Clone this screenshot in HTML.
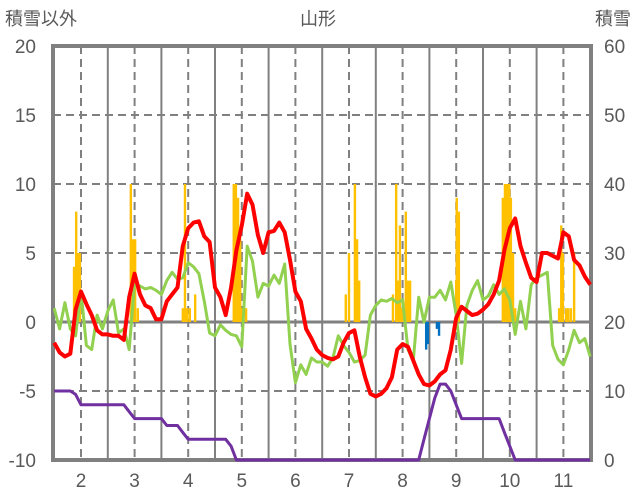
<!DOCTYPE html>
<html><head><meta charset="utf-8">
<style>
html,body{margin:0;padding:0;background:#fff;}
svg{display:block;font-family:"Liberation Sans","Noto Sans CJK JP",sans-serif;}
</style></head>
<body>
<svg id="chart" width="636" height="501" viewBox="0 0 636 501" xmlns="http://www.w3.org/2000/svg">
<text x="5" y="25" font-size="18" fill="#595959">積雪以外</text>
<text x="318" y="25" font-size="18" fill="#595959" text-anchor="middle">山形</text>
<text x="631" y="25" font-size="18" fill="#595959" text-anchor="end">積雪</text>
<g id="grid"></g>
<g id="bars"></g>
<g id="frame"></g>
<g id="lines"></g>
<g id="ticks"></g>
</svg>
<script>
const xTicks = [2,3,4,5,6,7,8,9,10,11];
const leftTicks = [-10,-5,0,5,10,15,20];
const rightTicks = [0,10,20,30,40,50,60];
const tStart = 1.5, tStep = 0.1;
const redVals = [-1.5,-2.2,-2.5,-2.3,0.9,2.2,1.3,0.5,-0.6,-0.9,-0.9,-1,-1,-1.3,1.8,3.5,2,1.2,1.0,0.2,0.2,1.5,2,2.5,5.5,6.8,7.2,7.3,6.2,5.8,2.5,1.8,0.5,2.5,5.2,7,9.3,8.5,6.3,5,6.5,6.6,7.2,6.5,4.5,2.2,1.5,-0.5,-1.2,-2,-2.4,-2.6,-2.7,-2.5,-1.5,-0.8,-0.6,-2.5,-4,-5.2,-5.4,-5.2,-4.8,-4,-2,-1.6,-1.8,-2.8,-3.8,-4.5,-4.6,-4.3,-3.8,-3.5,-2,0.3,1.1,0.8,0.5,0.6,0.9,1.3,2,3,5.2,6.8,7.5,5.5,4.3,3.2,2.9,5.0,5.0,4.8,4.6,6.5,6.2,4.5,4.1,3.3,2.7];
const greenVals = [1.0,-0.5,1.4,-0.5,-1.0,2.2,-1.7,-2.0,0.5,-0.5,0.8,1.6,-0.8,-0.5,-2.0,2.8,2.6,2.4,2.5,2.3,2.0,3,3.6,3.1,3.2,4.3,4,3.5,1.5,-0.8,-1,-0.2,-0.6,-0.9,-1,-1.8,5.5,4.4,1.8,2.8,2.6,3.4,2.8,4.2,-1.6,-4.4,-3.1,-3.8,-2.6,-2.9,-2.9,-3.2,-2.6,-1.0,-1.7,-2.2,-2.9,-2.8,-2.4,0.5,1.2,1.6,1.5,1.7,1.4,1.6,-2.0,-2.8,1.8,0,1.8,1.8,2.3,1.6,2.9,0.5,-3.0,1.2,2.3,3.0,1.6,1.9,2.7,2,2.4,1.6,-0.9,1.5,-0.5,2.7,3.2,3.4,3.6,-1.7,-2.7,-3.1,-2.0,-0.6,-1.5,-1.2,-2.5];
const snowDepthVals = [10,10,10,10,9.5,8,8,8,8,8,8,8,8,8,7,6,6,6,6,6,6,5,5,5,4,3,3,3,3,3,3,3,3,2,0,0,0,0,0,0,0,0,0,0,0,0,0,0,0,0,0,0,0,0,0,0,0,0,0,0,0,0,0,0,0,0,0,0,0,3,6,9,11,11,10,8,6,6,6,6,6,6,6,6,4,2,0,0,0,0,0,0,0,0,0,0,0,0,0,0,0];
const snowBarDates = [1.87,1.91,1.94,1.98,2.93,2.97,3.01,3.06,3.90,3.94,3.98,4.03,4.13,4.85,4.89,4.93,4.97,5.00,5.08,6.94,7.00,7.11,7.15,7.19,7.82,7.88,7.91,7.95,7.99,8.03,8.06,8.10,8.14,9.00,9.01,9.05,9.87,9.91,9.95,9.99,10.02,10.06,10.10,10.92,10.96,10.99,11.05,11.09,11.14,11.20];
const snowBarVals = [4,8,5,5,10,6,6,1,1,10,1,1,2,10,10,9,6,1,1,2,5,10,6,3,2,10,3,7,1,1,8,3,3,3,9,8,9,10,10,10,9,5,1,1,7,5,1,1,1,5];
const blueBarDates = [8.44,8.47,8.64,8.68];
const blueBarVals = [-2,-1.6,-0.5,-1.0];

const NS='http://www.w3.org/2000/svg';
const X0=53, X1=591, Y0=46, Y1=460;
function xs(t){return 81+53.6*(t-2);}
function yl(v){return Y1-(v+10)*(Y1-Y0)/30;}
function yr(v){return Y1-v*(Y1-Y0)/60;}
function mk(tag,attrs,parent){const e=document.createElementNS(NS,tag);for(const k in attrs)e.setAttribute(k,attrs[k]);parent.appendChild(e);return e;}
const grid=document.getElementById('grid'),bars=document.getElementById('bars'),lines=document.getElementById('lines'),frame=document.getElementById('frame'),ticks=document.getElementById('ticks');

leftTicks.forEach(v=>{
  if(v===-10||v===20||v===0)return;
  const l=mk('line',{x1:X0,x2:X1,y1:yl(v),y2:yl(v),stroke:'#808080','stroke-width':2,'stroke-dasharray':'8,5'},grid);
  
  
});
xTicks.forEach(t=>{
  const d=mk('line',{x1:xs(t),x2:xs(t),y1:Y0,y2:Y1,stroke:'#808080','stroke-width':2,'stroke-dasharray':'8,5'},grid);
  
  
  if(t<11){
    const s=mk('line',{x1:xs(t+0.5),x2:xs(t+0.5),y1:Y0,y2:Y1,stroke:'#808080','stroke-width':2},grid);
    
    
  }
});
const bw=2.4;
snowBarDates.forEach((t,i)=>{
  const v=snowBarVals[i];
  const r=mk('rect',{x:xs(t)-bw/2,y:yl(v),width:bw,height:yl(0)-yl(v),fill:'#FFC000'},bars);
  
  
});
blueBarDates.forEach((t,i)=>{
  const v=blueBarVals[i];
  const r=mk('rect',{x:xs(t)-bw/2,y:yl(0),width:bw,height:yl(v)-yl(0),fill:'#0070C0'},bars);
  
  
});
const zl=mk('line',{x1:X0,x2:X1,y1:yl(0),y2:yl(0),stroke:'#808080','stroke-width':3},grid);



const fr=mk('rect',{x:X0,y:Y0,width:X1-X0,height:Y1-Y0,fill:'none',stroke:'#808080','stroke-width':4},frame);



function series(vals,yf,color,name){
  const pts=vals.map((v,i)=>xs(tStart+i*tStep).toFixed(1)+','+yf(v).toFixed(1)).join(' ');
  const p=mk('polyline',{points:pts,fill:'none',stroke:color,'stroke-width':3,'stroke-linejoin':'round'},lines);
  
  
  return p;
}
series(snowDepthVals,yr,'#7030A0','snow-depth-line');
series(greenVals,yl,'#92D050','green-series-line');
const red=series(redVals,yl,'#FF0000','red-series-line');
red.setAttribute('stroke-width',4);

leftTicks.forEach(v=>{
  const t=mk('text',{x:36,y:yl(v)+7,'font-size':19,fill:'#595959','text-anchor':'end'},ticks);
  t.textContent=v;
  
  
});
rightTicks.forEach(v=>{
  const t=mk('text',{x:604,y:yr(v)+7,'font-size':19,fill:'#595959'},ticks);
  t.textContent=v;
  
  
});
xTicks.forEach(m=>{
  const t=mk('text',{x:xs(m),y:487,'font-size':19,fill:'#595959','text-anchor':'middle'},ticks);
  t.textContent=m;
  
  
});
</script>
</body></html>
